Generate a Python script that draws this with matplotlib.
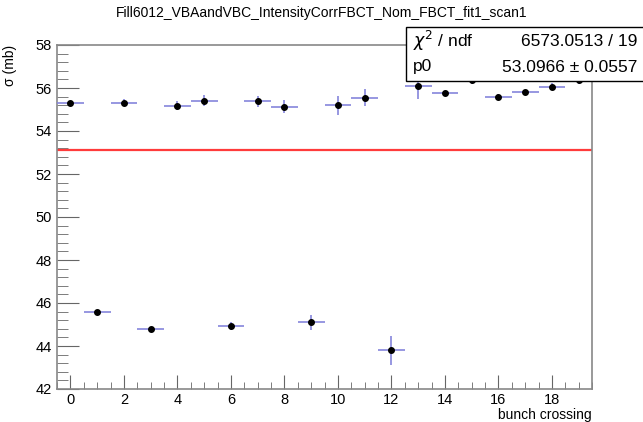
import numpy as np
import matplotlib.pyplot as plt
from matplotlib.patches import Rectangle
from matplotlib.ticker import MultipleLocator

plt.rcParams['font.family'] = ['Liberation Sans', 'DejaVu Sans']

# Data
bunch = np.arange(20)
sigma = [55.29, 45.57, 55.32, 44.78, 55.18, 55.41, 44.93, 55.38, 55.13, 45.10,
         55.20, 55.55, 43.80, 56.08, 55.77, 56.35, 55.60, 55.80, 56.06, 56.35]
sigma_err = [0.10, 0.07, 0.15, 0.08, 0.20, 0.25, 0.20, 0.25, 0.30, 0.35,
             0.45, 0.40, 0.68, 0.60, 0.10, 0.15, 0.12, 0.12, 0.15, 0.15]
p0 = 53.0966
p0_err = 0.0557
chi2 = 6573.0513
ndf = 19
title = "Fill6012_VBAandVBC_IntensityCorrFBCT_Nom_FBCT_fit1_scan1"

W, H = 643, 422
fig = plt.figure(figsize=(W / 100, H / 100), dpi=100)
ax = fig.add_axes([57 / W, 1 - 389 / H, (592 - 57) / W, (389 - 45) / H])

ax.errorbar(bunch, sigma, xerr=0.5, yerr=sigma_err, fmt='o', color='black',
            markersize=4, ecolor='#8585dc', elinewidth=1.2, capsize=0, zorder=3)
ax.plot([-0.5, 19.5], [p0, p0], color='#ff3b3b', lw=1.6, zorder=2)

ax.set_xlim(-0.5, 19.5)
ax.set_ylim(42, 58)
ax.xaxis.set_major_locator(MultipleLocator(2))
ax.xaxis.set_minor_locator(MultipleLocator(0.5))
ax.yaxis.set_major_locator(MultipleLocator(2))
ax.yaxis.set_minor_locator(MultipleLocator(0.4))
ax.tick_params(axis='both', which='both', direction='in', color='#666666',
               labelsize=10.5, top=False, right=False)
ax.tick_params(axis='y', which='major', length=16, pad=4)
ax.tick_params(axis='y', which='minor', length=8)
ax.tick_params(axis='x', which='major', length=10, pad=3)
ax.tick_params(axis='x', which='minor', length=5)
for s in ax.spines.values():
    s.set_color('#888888')
    s.set_linewidth(1.2)

fig.text(0.5, 1 - 13 / H, title, ha='center', va='center', fontsize=10)
fig.text(10 / W, 1 - 45 / H, "σ (mb)", rotation=90, ha='center', va='top', fontsize=10)
fig.text(592 / W, 1 - 408 / H, "bunch crossing", ha='right', va='top', fontsize=10)

# stats box
fig.patches.append(Rectangle((406 / W, 1 - 81 / H), (650 - 406) / W, (81 - 27) / H,
                             transform=fig.transFigure, facecolor='white',
                             edgecolor='black', lw=1, zorder=5))
fig.text(413 / W, 1 - 41 / H, r"$\chi^2$ / ndf", ha='left', va='center', fontsize=12.5, zorder=6)
fig.text(637 / W, 1 - 41 / H, f"{chi2:.4f} / {ndf}", ha='right', va='center', fontsize=12.5, zorder=6)
fig.text(413 / W, 1 - 67 / H, "p0", ha='left', va='center', fontsize=12.5, zorder=6)
fig.text(637 / W, 1 - 67 / H, f"{p0:.4f} ± {p0_err:.4f}", ha='right', va='center', fontsize=12.5, zorder=6)

fig.savefig("out.png", dpi=100)
